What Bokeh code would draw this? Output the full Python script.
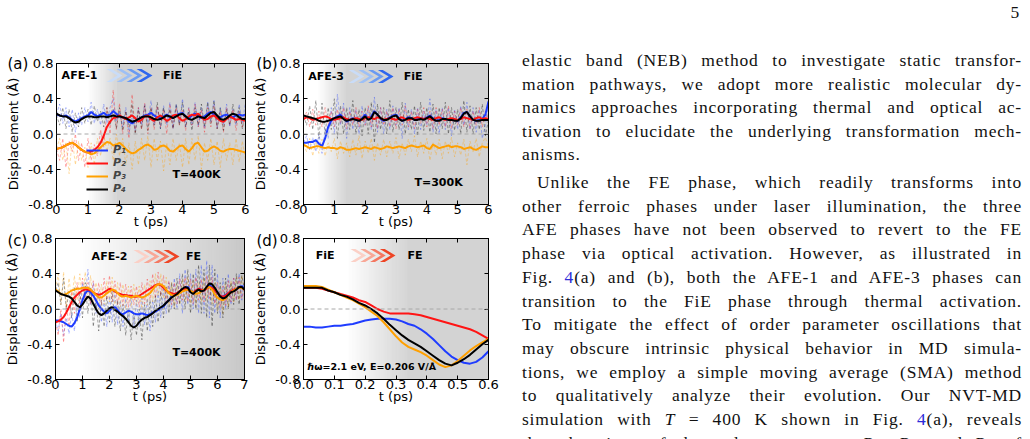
import numpy as np
from bokeh.plotting import figure
from bokeh.models import (Range1d, LinearAxis, FixedTicker, NumeralTickFormatter,
                          CustomJSTickFormatter, Label, Legend, LegendItem, Span, Div,
                          Title)
from bokeh.layouts import row, column
from bokeh.embed import file_html
from bokeh.resources import INLINE

# ---------------------------------------------------------------- data
# time grids (ps)
T_A = np.linspace(0.0, 6.0, 61)
T_B = np.linspace(0.0, 6.0, 61)
T_C = np.linspace(0.0, 7.0, 71)
T_D = np.linspace(0.0, 0.6, 31)

Y_TICKS = [-0.8, -0.4, 0.0, 0.4, 0.8]
X_TICKS_AB = [0, 1, 2, 3, 4, 5, 6]
X_TICKS_C = [0, 1, 2, 3, 4, 5, 6, 7]
X_TICKS_D = [0.0, 0.1, 0.2, 0.3, 0.4, 0.5, 0.6]

# (a) AFE-1 -> FiE, T = 400 K : moving averages
A_P1 = [0.22, 0.21, 0.20, 0.21, 0.19, 0.16, 0.14, 0.16, 0.18, 0.20,
        0.21, 0.25, 0.22, 0.20, 0.22, 0.24, 0.21, 0.22, 0.26, 0.23,
        0.20, 0.19, 0.18, 0.14, 0.12, 0.15, 0.17, 0.19, 0.21, 0.22,
        0.24, 0.21, 0.19, 0.18, 0.20, 0.22, 0.19, 0.18, 0.21, 0.23,
        0.24, 0.20, 0.18, 0.21, 0.23, 0.20, 0.18, 0.20, 0.23, 0.25,
        0.22, 0.20, 0.19, 0.21, 0.22, 0.20, 0.19, 0.21, 0.22, 0.21,
        0.22]
A_P2 = [-0.17, -0.16, -0.15, -0.13, -0.11, -0.10, -0.12, -0.15, -0.18, -0.20,
        -0.21, -0.20, -0.18, -0.15, -0.10, -0.02, 0.08, 0.14, 0.18, 0.19,
        0.21, 0.19, 0.17, 0.19, 0.21, 0.18, 0.14, 0.16, 0.20, 0.21,
        0.17, 0.15, 0.19, 0.21, 0.18, 0.15, 0.17, 0.21, 0.22, 0.18,
        0.15, 0.17, 0.20, 0.22, 0.21, 0.23, 0.19, 0.16, 0.17, 0.20,
        0.21, 0.18, 0.15, 0.14, 0.17, 0.20, 0.18, 0.16, 0.17, 0.16,
        0.15]
A_P3 = [-0.17, -0.16, -0.15, -0.13, -0.11, -0.10, -0.12, -0.15, -0.18, -0.20,
        -0.21, -0.23, -0.22, -0.19, -0.15, -0.12, -0.09, -0.10, -0.13, -0.12,
        -0.10, -0.13, -0.17, -0.20, -0.22, -0.21, -0.18, -0.16, -0.13, -0.12,
        -0.14, -0.18, -0.17, -0.14, -0.13, -0.15, -0.19, -0.20, -0.17, -0.14,
        -0.13, -0.17, -0.20, -0.16, -0.11, -0.10, -0.15, -0.20, -0.19, -0.16,
        -0.14, -0.16, -0.19, -0.20, -0.18, -0.17, -0.17, -0.18, -0.19, -0.20,
        -0.21]
A_P4 = [0.23, 0.21, 0.20, 0.20, 0.18, 0.15, 0.13, 0.14, 0.17, 0.19,
        0.20, 0.20, 0.19, 0.19, 0.20, 0.20, 0.19, 0.20, 0.21, 0.20,
        0.20, 0.19, 0.18, 0.16, 0.14, 0.15, 0.17, 0.19, 0.20, 0.20,
        0.19, 0.17, 0.16, 0.17, 0.19, 0.21, 0.20, 0.18, 0.20, 0.22,
        0.23, 0.20, 0.17, 0.16, 0.18, 0.20, 0.19, 0.18, 0.21, 0.24,
        0.25, 0.21, 0.17, 0.16, 0.18, 0.21, 0.23, 0.22, 0.19, 0.17,
        0.17]
# (a) raw trajectories
A_P1_RAW = [0.22, 0.34, 0.12, 0.30, 0.08, 0.28, 0.02, 0.24, 0.10, 0.30,
            0.14, 0.36, 0.12, 0.28, 0.10, 0.34, 0.12, 0.30, 0.40, 0.14,
            0.26, 0.08, 0.30, 0.00, 0.22, 0.04, 0.30, 0.10, 0.34, 0.12,
            0.38, 0.10, 0.30, 0.06, 0.32, 0.10, 0.36, 0.06, 0.34, 0.12,
            0.40, 0.08, 0.30, 0.10, 0.36, 0.08, 0.30, 0.06, 0.36, 0.14,
            0.38, 0.06, 0.30, 0.10, 0.34, 0.08, 0.28, 0.10, 0.34, 0.12,
            0.36]
A_P2_RAW = [-0.17, -0.30, -0.05, -0.38, -0.08, -0.20, 0.00, -0.30, -0.10, -0.38,
            -0.05, -0.30, -0.12, -0.25, 0.05, -0.15, 0.30, 0.00, 0.50, 0.05,
            0.35, 0.00, 0.25, -0.05, 0.45, 0.02, 0.30, 0.05, 0.35, 0.00,
            0.30, 0.05, 0.32, 0.08, 0.28, 0.00, 0.34, 0.06, 0.30, 0.10,
            0.28, 0.04, 0.30, 0.10, 0.34, 0.08, 0.28, 0.02, 0.30, 0.08,
            0.32, 0.06, 0.26, 0.02, 0.30, 0.10, 0.28, 0.04, 0.26, 0.08,
            0.22]
A_P3_RAW = [-0.17, -0.05, -0.30, -0.10, -0.45, -0.05, -0.35, -0.08, -0.30, -0.15,
            -0.38, -0.10, -0.35, -0.05, -0.25, 0.00, -0.20, -0.05, -0.30, 0.00,
            -0.25, -0.05, -0.35, -0.10, -0.40, -0.08, -0.35, -0.05, -0.30, -0.02,
            -0.38, -0.05, -0.30, -0.08, -0.42, -0.10, -0.35, -0.05, -0.30, -0.10,
            -0.38, -0.05, -0.35, -0.05, -0.30, -0.02, -0.40, -0.10, -0.30, -0.05,
            -0.35, -0.08, -0.38, -0.05, -0.30, -0.10, -0.35, -0.05, -0.32, -0.08,
            -0.30]
A_P4_RAW = [0.22, 0.10, 0.30, 0.06, 0.28, 0.02, 0.24, 0.08, 0.30, 0.12,
            0.28, 0.10, 0.32, 0.14, 0.26, 0.08, 0.30, 0.10, 0.28, 0.06,
            0.30, 0.04, 0.26, 0.08, 0.34, 0.00, 0.28, 0.06, 0.32, 0.04,
            0.30, 0.10, 0.36, 0.06, 0.30, 0.12, 0.28, 0.06, 0.34, 0.10,
            0.36, 0.08, 0.26, 0.04, 0.30, 0.10, 0.34, 0.08, 0.36, 0.12,
            0.38, 0.06, 0.30, 0.04, 0.28, 0.10, 0.34, 0.12, 0.30, 0.06,
            0.26]

# (b) AFE-3 -> FiE, T = 300 K : moving averages
B_P1 = [-0.10, -0.10, -0.09, -0.09, -0.07, -0.11, -0.14, -0.05, 0.08, 0.15,
        0.18, 0.20, 0.22, 0.18, 0.14, 0.16, 0.18, 0.16, 0.15, 0.18,
        0.22, 0.17, 0.20, 0.26, 0.22, 0.17, 0.15, 0.17, 0.19, 0.21,
        0.22, 0.18, 0.15, 0.17, 0.19, 0.18, 0.16, 0.17, 0.18, 0.17,
        0.19, 0.21, 0.18, 0.15, 0.16, 0.18, 0.17, 0.16, 0.17, 0.16,
        0.15, 0.19, 0.24, 0.25, 0.20, 0.16, 0.15, 0.16, 0.17, 0.22,
        0.37]
B_P2 = [0.17, 0.19, 0.18, 0.16, 0.17, 0.18, 0.19, 0.20, 0.19, 0.17,
        0.16, 0.17, 0.18, 0.19, 0.17, 0.16, 0.17, 0.18, 0.17, 0.16,
        0.18, 0.19, 0.18, 0.17, 0.19, 0.18, 0.16, 0.17, 0.18, 0.17,
        0.16, 0.18, 0.19, 0.17, 0.16, 0.17, 0.18, 0.19, 0.18, 0.17,
        0.18, 0.17, 0.16, 0.18, 0.19, 0.17, 0.16, 0.17, 0.18, 0.17,
        0.16, 0.17, 0.19, 0.18, 0.17, 0.16, 0.18, 0.19, 0.17, 0.18,
        0.17]
B_P3 = [-0.12, -0.14, -0.16, -0.15, -0.14, -0.14, -0.15, -0.16, -0.15, -0.16,
        -0.16, -0.17, -0.15, -0.16, -0.18, -0.18, -0.17, -0.16, -0.17, -0.16,
        -0.15, -0.16, -0.17, -0.15, -0.16, -0.17, -0.16, -0.14, -0.15, -0.16,
        -0.15, -0.14, -0.15, -0.16, -0.14, -0.13, -0.14, -0.15, -0.14, -0.13,
        -0.16, -0.17, -0.12, -0.14, -0.16, -0.15, -0.14, -0.13, -0.15, -0.14,
        -0.14, -0.15, -0.17, -0.16, -0.15, -0.17, -0.18, -0.16, -0.14, -0.15,
        -0.15]
B_P4 = [0.21, 0.20, 0.19, 0.18, 0.17, 0.15, 0.14, 0.14, 0.15, 0.16,
        0.18, 0.19, 0.20, 0.17, 0.15, 0.16, 0.17, 0.16, 0.15, 0.17,
        0.20, 0.16, 0.18, 0.25, 0.22, 0.18, 0.16, 0.16, 0.18, 0.20,
        0.21, 0.17, 0.15, 0.16, 0.18, 0.18, 0.16, 0.16, 0.17, 0.16,
        0.18, 0.20, 0.17, 0.15, 0.15, 0.17, 0.17, 0.16, 0.16, 0.15,
        0.15, 0.18, 0.23, 0.25, 0.20, 0.16, 0.15, 0.15, 0.16, 0.16,
        0.16]
# (b) raw trajectories
B_P1_RAW = [-0.10, -0.02, -0.18, -0.04, -0.20, 0.00, -0.22, 0.05, -0.05, 0.30,
            0.00, 0.45, 0.10, 0.35, -0.05, 0.30, 0.05, 0.28, 0.00, 0.32,
            0.10, 0.30, 0.05, 0.42, 0.02, 0.30, 0.00, 0.28, 0.05, 0.32,
            0.10, 0.30, -0.05, 0.35, 0.05, 0.28, 0.00, 0.30, 0.05, 0.26,
            0.10, 0.40, 0.02, 0.28, 0.00, 0.30, 0.05, 0.30, -0.02, 0.28,
            0.05, 0.32, 0.10, 0.36, 0.05, 0.30, 0.02, 0.28, -0.05, 0.10,
            0.38]
B_P2_RAW = [0.17, 0.25, 0.08, 0.28, 0.10, 0.26, 0.08, 0.30, 0.10, 0.26,
            0.08, 0.28, 0.12, 0.30, 0.06, 0.26, 0.10, 0.30, 0.08, 0.26,
            0.10, 0.32, 0.08, 0.28, 0.06, 0.30, 0.10, 0.26, 0.08, 0.30,
            0.06, 0.28, 0.10, 0.32, 0.08, 0.26, 0.06, 0.28, 0.12, 0.30,
            0.08, 0.26, 0.06, 0.30, 0.10, 0.28, 0.08, 0.32, 0.06, 0.26,
            0.10, 0.30, 0.08, 0.28, 0.06, 0.26, 0.10, 0.30, 0.08, 0.26,
            0.17]
B_P3_RAW = [-0.12, -0.20, -0.05, -0.25, -0.08, -0.22, -0.06, -0.25, -0.10, -0.20,
            -0.05, -0.28, -0.08, -0.22, -0.10, -0.26, -0.06, -0.24, -0.02, -0.28,
            -0.08, -0.22, -0.05, -0.30, -0.10, -0.24, -0.06, -0.26, -0.08, -0.22,
            -0.04, -0.28, -0.10, -0.24, -0.06, -0.20, -0.02, -0.26, -0.08, -0.22,
            -0.05, -0.30, -0.10, -0.24, -0.06, -0.28, -0.08, -0.22, -0.04, -0.26,
            -0.10, -0.24, -0.06, -0.35, -0.08, -0.20, -0.05, -0.26, -0.10, -0.04,
            -0.15]
B_P4_RAW = [0.21, 0.10, 0.32, 0.05, 0.38, -0.05, 0.35, 0.00, 0.30, 0.05,
            0.40, -0.05, 0.32, 0.00, 0.30, 0.05, 0.38, 0.00, 0.28, -0.02,
            0.30, 0.00, 0.36, -0.10, 0.34, 0.05, 0.30, 0.00, 0.38, 0.02,
            0.30, 0.05, 0.36, 0.00, 0.28, 0.05, 0.32, -0.02, 0.36, 0.04,
            0.30, 0.02, 0.34, 0.00, 0.30, 0.06, 0.36, 0.00, 0.30, 0.04,
            0.28, 0.00, 0.38, 0.02, 0.32, 0.00, 0.30, 0.05, 0.34, -0.02,
            0.16]

# (c) AFE-2 -> FE, T = 400 K : moving averages
C_P1 = [-0.13, -0.13, -0.14, -0.15, -0.17, -0.19, -0.20, -0.16, -0.10, 0.00,
        0.10, 0.18, 0.21, 0.19, 0.15, 0.10, 0.04, 0.00, -0.03, -0.05,
        -0.02, 0.01, 0.02, -0.01, -0.05, -0.06, -0.04, -0.02, -0.03, -0.05,
        -0.06, -0.06, -0.05, -0.06, -0.07, -0.06, -0.04, -0.03, -0.01, 0.01,
        0.03, 0.07, 0.10, 0.14, 0.16, 0.18, 0.20, 0.22, 0.24, 0.25,
        0.21, 0.19, 0.21, 0.23, 0.22, 0.21, 0.24, 0.27, 0.25, 0.21,
        0.18, 0.15, 0.14, 0.16, 0.18, 0.20, 0.21, 0.23, 0.25, 0.26,
        0.23]
C_P2 = [-0.15, -0.14, -0.12, -0.09, -0.04, 0.02, 0.08, 0.13, 0.16, 0.19,
        0.21, 0.22, 0.22, 0.21, 0.19, 0.17, 0.16, 0.17, 0.19, 0.21,
        0.23, 0.22, 0.20, 0.18, 0.17, 0.16, 0.16, 0.15, 0.15, 0.14,
        0.14, 0.15, 0.17, 0.19, 0.21, 0.23, 0.25, 0.27, 0.28, 0.27,
        0.24, 0.21, 0.19, 0.18, 0.17, 0.18, 0.20, 0.22, 0.23, 0.22,
        0.20, 0.19, 0.21, 0.23, 0.22, 0.21, 0.23, 0.25, 0.24, 0.21,
        0.18, 0.15, 0.14, 0.15, 0.18, 0.20, 0.22, 0.23, 0.24, 0.24,
        0.22]
C_P3 = [0.22, 0.20, 0.17, 0.16, 0.17, 0.19, 0.21, 0.22, 0.23, 0.23,
        0.24, 0.24, 0.24, 0.22, 0.19, 0.16, 0.13, 0.13, 0.15, 0.18,
        0.20, 0.22, 0.21, 0.18, 0.15, 0.14, 0.15, 0.14, 0.13, 0.14,
        0.15, 0.14, 0.13, 0.14, 0.16, 0.18, 0.22, 0.26, 0.28, 0.28,
        0.26, 0.22, 0.18, 0.16, 0.15, 0.16, 0.18, 0.20, 0.21, 0.22,
        0.21, 0.19, 0.17, 0.18, 0.20, 0.22, 0.24, 0.25, 0.22, 0.17,
        0.13, 0.11, 0.10, 0.12, 0.16, 0.19, 0.21, 0.23, 0.24, 0.24,
        0.22]
C_P4 = [0.21, 0.19, 0.17, 0.16, 0.15, 0.14, 0.12, 0.08, 0.04, 0.02,
        0.05, 0.10, 0.14, 0.12, 0.06, 0.00, -0.05, -0.07, -0.05, -0.02,
        0.01, 0.02, -0.01, -0.03, -0.06, -0.08, -0.11, -0.15, -0.19, -0.21,
        -0.19, -0.15, -0.12, -0.10, -0.09, -0.07, -0.05, -0.02, 0.00, 0.02,
        0.04, 0.07, 0.10, 0.13, 0.15, 0.17, 0.20, 0.23, 0.25, 0.24,
        0.19, 0.17, 0.20, 0.22, 0.20, 0.21, 0.25, 0.29, 0.28, 0.24,
        0.19, 0.14, 0.12, 0.13, 0.16, 0.19, 0.20, 0.22, 0.25, 0.25,
        0.22]
# (c) raw trajectories
C_P1_RAW = [-0.13, -0.25, -0.05, -0.30, -0.10, -0.28, -0.05, -0.25, 0.05, -0.10,
            0.30, 0.10, 0.45, 0.05, 0.30, -0.05, 0.20, -0.15, 0.10, -0.20,
            0.15, -0.15, 0.20, -0.18, 0.10, -0.20, 0.12, -0.15, 0.15, -0.22,
            0.10, -0.20, 0.15, -0.18, 0.12, -0.25, 0.10, -0.15, 0.20, -0.10,
            0.25, -0.05, 0.30, 0.00, 0.35, 0.00, 0.40, -0.05, 0.45, 0.05,
            0.40, 0.00, 0.45, -0.05, 0.50, -0.05, 0.55, -0.10, 0.50, -0.05,
            0.40, -0.10, 0.35, 0.00, 0.40, 0.05, 0.35, 0.10, 0.40, 0.10,
            0.35]
C_P2_RAW = [-0.15, -0.30, 0.00, -0.38, 0.05, -0.20, 0.20, -0.05, 0.30, 0.05,
            0.35, 0.10, 0.30, 0.05, 0.32, 0.08, 0.30, 0.05, 0.35, 0.10,
            0.38, 0.08, 0.32, 0.05, 0.30, 0.04, 0.28, 0.02, 0.26, 0.05,
            0.26, 0.02, 0.30, 0.06, 0.34, 0.10, 0.40, 0.12, 0.42, 0.15,
            0.38, 0.08, 0.32, 0.05, 0.30, 0.06, 0.34, 0.10, 0.36, 0.08,
            0.34, 0.06, 0.36, 0.10, 0.34, 0.08, 0.38, 0.12, 0.36, 0.06,
            0.30, 0.02, 0.26, 0.04, 0.32, 0.08, 0.35, 0.10, 0.36, 0.12,
            0.22]
C_P3_RAW = [0.22, 0.40, 0.05, 0.42, 0.02, 0.35, 0.08, 0.38, 0.10, 0.40,
            0.08, 0.42, 0.10, 0.38, 0.05, 0.30, 0.00, 0.28, 0.05, 0.32,
            0.08, 0.36, 0.05, 0.30, 0.02, 0.28, 0.00, 0.26, 0.02, 0.28,
            0.04, 0.26, 0.00, 0.28, 0.04, 0.32, 0.08, 0.40, 0.15, 0.40,
            0.12, 0.36, 0.04, 0.30, 0.02, 0.28, 0.06, 0.34, 0.08, 0.36,
            0.06, 0.32, 0.04, 0.30, 0.08, 0.36, 0.10, 0.38, 0.06, 0.30,
            -0.02, 0.25, -0.05, 0.28, 0.02, 0.32, 0.08, 0.36, 0.10, 0.38,
            0.22]
C_P4_RAW = [0.21, 0.30, 0.05, 0.35, 0.00, 0.20, -0.10, 0.25, -0.15, 0.20,
            -0.10, 0.30, -0.05, 0.25, -0.20, 0.10, -0.25, 0.10, -0.20, 0.15,
            -0.15, 0.20, -0.20, 0.10, -0.25, 0.05, -0.30, 0.00, -0.35, -0.05,
            -0.30, 0.00, -0.35, 0.05, -0.25, 0.10, -0.20, 0.15, -0.15, 0.20,
            -0.10, 0.25, -0.05, 0.30, 0.00, 0.35, 0.05, 0.40, 0.00, 0.45,
            -0.05, 0.40, 0.00, 0.50, -0.05, 0.45, -0.10, 0.50, -0.20, 0.45,
            -0.05, 0.30, -0.10, 0.35, 0.00, 0.30, 0.05, 0.40, 0.05, 0.38,
            0.22]

# (d) FiE -> FE under illumination (hbar*omega = 2.1 eV, E = 0.206 V/A)
D_P1 = [-0.20, -0.20, -0.21, -0.21, -0.20, -0.19, -0.19, -0.18, -0.17, -0.15,
        -0.13, -0.12, -0.11, -0.11, -0.11, -0.12, -0.14, -0.17, -0.19, -0.23,
        -0.28, -0.34, -0.41, -0.48, -0.54, -0.58, -0.61, -0.62, -0.60, -0.55,
        -0.48]
D_P2 = [0.24, 0.24, 0.24, 0.23, 0.21, 0.19, 0.17, 0.15, 0.13, 0.10,
        0.08, 0.04, 0.00, -0.03, -0.05, -0.05, -0.05, -0.05, -0.06, -0.07,
        -0.09, -0.11, -0.13, -0.15, -0.17, -0.19, -0.21, -0.23, -0.26, -0.30,
        -0.34]
D_P3 = [0.26, 0.26, 0.26, 0.25, 0.22, 0.19, 0.16, 0.13, 0.10, 0.06,
        0.02, -0.03, -0.08, -0.15, -0.23, -0.31, -0.38, -0.43, -0.46, -0.49,
        -0.53, -0.58, -0.63, -0.66, -0.64, -0.59, -0.53, -0.47, -0.42, -0.38,
        -0.34]
D_P4 = [0.24, 0.24, 0.24, 0.24, 0.21, 0.19, 0.16, 0.14, 0.11, 0.07,
        0.04, 0.00, -0.05, -0.11, -0.18, -0.24, -0.30, -0.35, -0.39, -0.43,
        -0.48, -0.53, -0.58, -0.62, -0.64, -0.61, -0.57, -0.52, -0.46, -0.40,
        -0.35]

SERIES = ["P₁", "P₂", "P₃", "P₄"]

# ---------------------------------------------------------------- style
SANS = "DejaVu Sans"
COLORS = ["#1f3cff", "#ff1414", "#ffa000", "#000000"]
BLUE_CHEV = ["#c9dcf8", "#9dbff5", "#6a9af2", "#2e66ee"]
RED_CHEV = ["#fbd0c6", "#f8a796", "#f47760", "#ee4424"]
FW, FH = 189, 141          # plot frame size in px


def px_to_x(px, xr):
    return xr[0] + px * (xr[1] - xr[0]) / FW


def py_to_y(py, yr):
    return yr[1] - py * (yr[1] - yr[0]) / FH


def add_shade(p, xr, yr, x0, x1, end_level):
    """White-to-gray background ramp between x0 and x1, flat gray afterwards."""
    n = 60
    edges = np.linspace(x0, x1, n + 1)
    dx = (x1 - x0) / n
    lefts, rights, cols = [], [], []
    for i in range(n):
        f = (i + 0.5) / n
        v = int(round(255 + (end_level - 255) * f))
        lefts.append(edges[i])
        rights.append(edges[i + 1] + dx * 0.6)
        cols.append("#%02x%02x%02x" % (v, v, v))
    if x1 < xr[1]:
        lefts.append(x1)
        rights.append(xr[1])
        cols.append("#%02x%02x%02x" % (end_level, end_level, end_level))
    p.quad(left=lefts, right=rights, bottom=yr[0], top=yr[1],
           fill_color=cols, line_color=None)


def add_chevrons(p, xr, yr, px0, py, colors, step=10, w=16, h=13, t=5):
    xs, ys = [], []
    for k in range(len(colors)):
        a = px0 + k * step
        pts = [(a, py - h / 2), (a + t, py - h / 2), (a + w, py),
               (a + t, py + h / 2), (a, py + h / 2), (a + w - t, py)]
        xs.append([px_to_x(u, xr) for u, _ in pts])
        ys.append([py_to_y(v, yr) for _, v in pts])
    p.patches(xs, ys, fill_color=colors, line_color=None)


def add_text(p, xr, yr, text, px, py, size="11px", bold=True, align="center"):
    p.add_layout(Label(x=px_to_x(px, xr), y=py_to_y(py, yr), text=text,
                       text_font=SANS, text_font_size=size,
                       text_font_style="bold" if bold else "normal",
                       text_align=align, text_baseline="middle",
                       text_color="black"))


def panel_tag(p, text, offset, standoff):
    p.title = Title(text=text, align="left", offset=offset, standoff=standoff,
                    vertical_align="bottom", text_font=SANS,
                    text_font_size="15px", text_font_style="normal",
                    text_color="black")


def blank_axis(ticks):
    return LinearAxis(ticker=FixedTicker(ticks=ticks),
                      formatter=CustomJSTickFormatter(code="return ''"),
                      major_tick_in=4, major_tick_out=0,
                      minor_tick_line_color=None,
                      major_label_text_font_size="1px",
                      major_label_standoff=0,
                      axis_line_color="black")


def make_panel(xr, xticks, xfmt, width, height, borders):
    yr = (-0.8, 0.8)
    left, right, top, bottom = borders
    p = figure(width=width, height=height, x_range=Range1d(*xr),
               y_range=Range1d(*yr), output_backend="svg",
               toolbar_location=None,
               min_border_left=left, min_border_right=right,
               min_border_top=top, min_border_bottom=bottom)
    p.xgrid.grid_line_color = None
    p.ygrid.grid_line_color = None
    p.outline_line_color = "black"
    p.outline_line_width = 1
    p.background_fill_color = "white"

    for ax, ticks, fmt, lab in ((p.xaxis[0], xticks, xfmt, "t (ps)"),
                                (p.yaxis[0], Y_TICKS, "0.0", "Displacement (Å)")):
        ax.ticker = FixedTicker(ticks=ticks)
        ax.formatter = NumeralTickFormatter(format=fmt)
        ax.major_tick_in = 4
        ax.major_tick_out = 0
        ax.minor_tick_line_color = None
        ax.axis_line_color = "black"
        ax.major_label_text_font = SANS
        ax.major_label_text_font_size = "13px"
        ax.major_label_text_color = "black"
        ax.axis_label = lab
        ax.axis_label_text_font = SANS
        ax.axis_label_text_font_size = "13px"
        ax.axis_label_text_font_style = "normal"
        ax.axis_label_text_color = "black"
    p.xaxis[0].major_label_standoff = 0
    p.xaxis[0].axis_label_standoff = -3
    p.yaxis[0].major_label_standoff = 3
    p.yaxis[0].axis_label_standoff = 4
    p.add_layout(blank_axis(xticks), "above")
    p.add_layout(blank_axis(Y_TICKS), "right")
    return p, yr


def draw_series(p, t, smooth, raw):
    if raw is not None:
        for ys, c in zip(raw, COLORS):
            p.line(t, ys, line_color=c, line_width=1, line_alpha=0.35,
                   line_dash="3 2")
    rends = []
    for ys, c in zip(smooth, COLORS):
        rends.append(p.line(t, ys, line_color=c, line_width=2))
    return rends


def zero_line(p):
    p.add_layout(Span(location=0, dimension="width", line_color="#a8a8a8",
                      line_dash="4 3", line_width=1))


TOP_H, BOT_H = 231, 208

# ---------------------------------------------------------------- panel (a)
xr_a = (0, 6)
pa, yr = make_panel(xr_a, X_TICKS_AB, "0", 250, TOP_H, (56, 5, 63, 27))
add_shade(pa, xr_a, yr, 1.0, 1.9, 211)
zero_line(pa)
rend_a = draw_series(pa, T_A, [A_P1, A_P2, A_P3, A_P4],
                     [A_P1_RAW, A_P2_RAW, A_P3_RAW, A_P4_RAW])
add_chevrons(pa, xr_a, yr, 50, 12, BLUE_CHEV)
add_text(pa, xr_a, yr, "AFE-1", 23, 12)
add_text(pa, xr_a, yr, "FiE", 116, 12)
add_text(pa, xr_a, yr, "T=400K", 140, 111)
panel_tag(pa, "(a)", -49, -18)
leg = Legend(items=[LegendItem(label=s, renderers=[r]) for s, r in zip(SERIES, rend_a)],
             location=(30, 9), padding=0, margin=0, spacing=-5,
             glyph_width=22, glyph_height=10, label_height=10,
             label_standoff=5, background_fill_alpha=0,
             border_line_alpha=0, label_text_font=SANS,
             label_text_font_size="11px", label_text_font_style="bold italic")
pa.add_layout(leg)

# ---------------------------------------------------------------- panel (b)
xr_b = (0, 6)
pb, yr = make_panel(xr_b, X_TICKS_AB, "0", 250, TOP_H, (49, 12, 63, 27))
add_shade(pb, xr_b, yr, 0.45, 1.35, 211)
zero_line(pb)
draw_series(pb, T_B, [B_P1, B_P2, B_P3, B_P4],
            [B_P1_RAW, B_P2_RAW, B_P3_RAW, B_P4_RAW])
add_chevrons(pb, xr_b, yr, 46, 13, BLUE_CHEV)
add_text(pb, xr_b, yr, "AFE-3", 23, 13)
add_text(pb, xr_b, yr, "FiE", 112, 13)
add_text(pb, xr_b, yr, "T=300K", 138, 119)
panel_tag(pb, "(b)", -47, -18)

# ---------------------------------------------------------------- panel (c)
xr_c = (0, 7)
pc, yr = make_panel(xr_c, X_TICKS_C, "0", 250, BOT_H, (55, 6, 7, 60))
add_shade(pc, xr_c, yr, 0.8, 7.0, 200)
zero_line(pc)
draw_series(pc, T_C, [C_P1, C_P2, C_P3, C_P4],
            [C_P1_RAW, C_P2_RAW, C_P3_RAW, C_P4_RAW])
add_chevrons(pc, xr_c, yr, 78, 18, RED_CHEV)
add_text(pc, xr_c, yr, "AFE-2", 54, 18)
add_text(pc, xr_c, yr, "FE", 138, 18)
add_text(pc, xr_c, yr, "T=400K", 141, 114)
panel_tag(pc, "(c)", -48, -22)

# ---------------------------------------------------------------- panel (d)
xr_d = (0.0, 0.6)
pd, yr = make_panel(xr_d, X_TICKS_D, "0.0", 250, BOT_H, (49, 12, 7, 60))
add_shade(pd, xr_d, yr, 0.14, 0.34, 211)
zero_line(pd)
draw_series(pd, T_D, [D_P1, D_P2, D_P3, D_P4], None)
add_chevrons(pd, xr_d, yr, 48, 17, RED_CHEV)
add_text(pd, xr_d, yr, "FiE", 22, 17)
add_text(pd, xr_d, yr, "FE", 114, 17)
add_text(pd, xr_d, yr, "ℏω=2.1 eV, E=0.206 V/Å", 4, 128, size="9.5px", align="left")
panel_tag(pd, "(d)", -47, -22)

# ---------------------------------------------------------------- text column
LINK = '<span style="color:#2b2bd8">4</span>'
PARA1 = [
    "elastic band (NEB) method to investigate static transfor-",
    "mation pathways, we adopt more realistic molecular dy-",
    "namics approaches incorporating thermal and optical ac-",
    "tivation to elucidate the underlying transformation mech-",
    "anisms.",
]
PARA2 = [
    "Unlike the FE phase, which readily transforms into",
    "other ferroic phases under laser illumination, the three",
    "AFE phases have not been observed to revert to the FE",
    "phase via optical activation. However, as illustrated in",
    f"Fig. {LINK}(a) and (b), both the AFE-1 and AFE-3 phases can",
    "transition to the FiE phase through thermal activation.",
    "To mitigate the effect of order parameter oscillations that",
    "may obscure intrinsic physical behavior in MD simula-",
    "tions, we employ a simple moving average (SMA) method",
    "to qualitatively analyze their evolution. Our NVT-MD",
    f"simulation with <i>T</i> = 400 K shown in Fig. {LINK}(a), reveals",
    "that the signs of the order parameters <i>P</i><sub>1</sub>, "
    "<i>P</i><sub>2</sub>, and <i>P</i><sub>4</sub> of",
]


def text_line(html, center_y, left, width, last=False):
    align = "left" if last else "justify"
    return (f'<div style="position:absolute;left:{left}px;top:{center_y - 15:.1f}px;'
            f'width:{width}px;height:26px;line-height:26px;text-align:justify;'
            f'text-align-last:{align};white-space:nowrap;">{html}</div>')


parts = ['<div style="position:relative;width:530px;height:439px;overflow:hidden;'
         'font-family:\'Liberation Serif\';font-size:17.5px;letter-spacing:0.8px;color:#111;">']
parts.append('<div style="position:absolute;right:10px;top:-1px;line-height:26px;">5</div>')
for i, ln in enumerate(PARA1):
    parts.append(text_line(ln, 62 + 23.5 * i, 22, 500, last=(i == len(PARA1) - 1)))
for i, ln in enumerate(PARA2):
    left = 37 if i == 0 else 22
    parts.append(text_line(ln, 184 + 23.7 * i, left, 522 - left))
parts.append("</div>")
text_col = Div(text="".join(parts), width=530, height=439, margin=(0, 0, 0, 0))

layout = row(column(row(pa, pb), row(pc, pd)), text_col)

open("out.html", "w").write(file_html(layout, INLINE))
